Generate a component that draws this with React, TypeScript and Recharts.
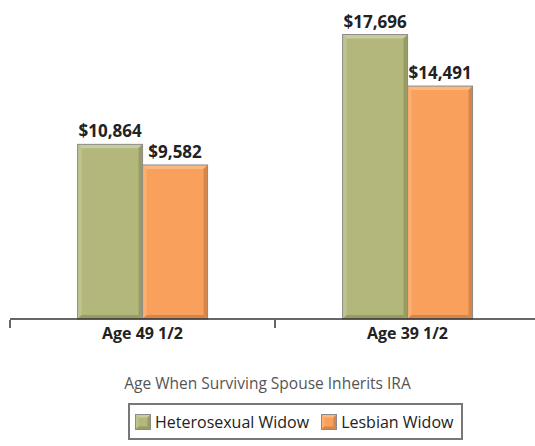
import React from "react";
import { BarChart, Bar, XAxis, YAxis, LabelList } from "recharts";

const categories = ["Age 49 1/2", "Age 39 1/2"];
const heteroValues = [10864, 17696];
const lesbianValues = [9582, 14491];
const seriesNames = ["Heterosexual Widow", "Lesbian Widow"];
const axisTitle = "Age When Surviving Spouse Inherits IRA";

const data = categories.map((c, i) => ({
  name: c,
  hetero: heteroValues[i],
  lesbian: lesbianValues[i],
}));

const FONT = "'Open Sans', 'Noto Sans', sans-serif";

const palette = {
  hetero: { base: "#b3b77c", light: "#c9cc9c", dark: "#989b62" },
  lesbian: { base: "#f9a15c", light: "#fbb982", dark: "#d5864a" },
};

function bevelRect(x: number, y: number, w: number, h: number, c: { base: string; light: string; dark: string }, d = 4) {
  if (w <= 0 || h <= 0) return null;
  const dd = Math.min(d, w / 2, h / 2);
  return (
    <g>
      <rect x={x} y={y} width={w} height={h} fill={c.base} />
      <polygon points={`${x},${y} ${x + w},${y} ${x + w - dd},${y + dd} ${x + dd},${y + dd}`} fill={c.light} />
      <polygon points={`${x},${y} ${x + dd},${y + dd} ${x + dd},${y + h - dd} ${x},${y + h}`} fill={c.light} opacity={0.6} />
      <polygon points={`${x + w},${y} ${x + w},${y + h} ${x + w - dd},${y + h - dd} ${x + w - dd},${y + dd}`} fill={c.dark} />
      <polygon points={`${x},${y + h} ${x + w},${y + h} ${x + w - dd},${y + h - dd} ${x + dd},${y + h - dd}`} fill={c.dark} />
      <rect x={x} y={y} width={w} height={h} fill="none" stroke="#8c8c8c" strokeWidth={1} />
    </g>
  );
}

const makeShape = (c: { base: string; light: string; dark: string }) => (props: any) => {
  const { x, y, width, height } = props;
  return bevelRect(x, y, width, height, c);
};

const fmt = (v: any) => "$" + Number(v).toLocaleString("en-US");

const TickLabel = (props: any) => {
  const { x, y, payload, width, visibleTicksCount, index } = props;
  const n = visibleTicksCount || categories.length;
  const half = width ? width / n / 2 : 0;
  const y0 = y - 1;
  return (
    <g>
      {half > 0 && <line x1={x - half} x2={x - half} y1={y0} y2={y0 + 8} stroke="#333" strokeWidth={1.5} />}
      {half > 0 && index === n - 1 && (
        <line x1={x + half} x2={x + half} y1={y0} y2={y0 + 8} stroke="#333" strokeWidth={1.5} />
      )}
      <text x={x} y={y + 18} textAnchor="middle" fontFamily={FONT} fontWeight={700} fontSize={16} fill="#222">
        {payload.value}
      </text>
    </g>
  );
};

export default function App() {
  return (
    <div style={{ position: "absolute", left: 0, top: 0, width: 535, height: 446, background: "#fff", overflow: "hidden" }}>
      <BarChart
        width={535}
        height={446}
        data={data}
        margin={{ top: 20, right: -5, left: 10, bottom: 97 }}
        barCategoryGap="25.5%"
        barGap={0}
      >
        <XAxis
          dataKey="name"
          axisLine={{ stroke: "#333", strokeWidth: 1.5 }}
          tickLine={false}
          tick={<TickLabel />}
          tickSize={0}
          height={30}
          interval={0}
        />
        <YAxis hide domain={[0, 18600]} />
        <Bar dataKey="hetero" name={seriesNames[0]} isAnimationActive={false} shape={makeShape(palette.hetero)}>
          <LabelList dataKey="hetero" position="top" offset={7} formatter={fmt} fontFamily={FONT} fontWeight={700} fontSize={17} fill="#222" />
        </Bar>
        <Bar dataKey="lesbian" name={seriesNames[1]} isAnimationActive={false} shape={makeShape(palette.lesbian)}>
          <LabelList dataKey="lesbian" position="top" offset={7} formatter={fmt} fontFamily={FONT} fontWeight={700} fontSize={17} fill="#222" />
        </Bar>
      </BarChart>
      <div
        style={{
          position: "absolute",
          left: 0,
          top: 373,
          width: 535,
          textAlign: "center",
          fontFamily: FONT,
          fontSize: 15.5,
          color: "#555",
          lineHeight: "20px",
        }}
      >
        {axisTitle}
      </div>
      <div
        style={{
          position: "absolute",
          left: 128,
          top: 403,
          width: 335,
          height: 37,
          boxSizing: "border-box",
          border: "2px solid #777",
          display: "flex",
          alignItems: "center",
          justifyContent: "flex-start",
          paddingLeft: 5,
          gap: 12,
          fontFamily: FONT,
          fontSize: 16,
          color: "#222",
        }}
      >
        {[palette.hetero, palette.lesbian].map((c, i) => (
          <div key={i} style={{ display: "flex", alignItems: "center", gap: 4 }}>
            <svg width={16} height={16}>
              {bevelRect(0.5, 0.5, 15, 15, c, 3)}
            </svg>
            <span>{seriesNames[i]}</span>
          </div>
        ))}
      </div>
    </div>
  );
}
